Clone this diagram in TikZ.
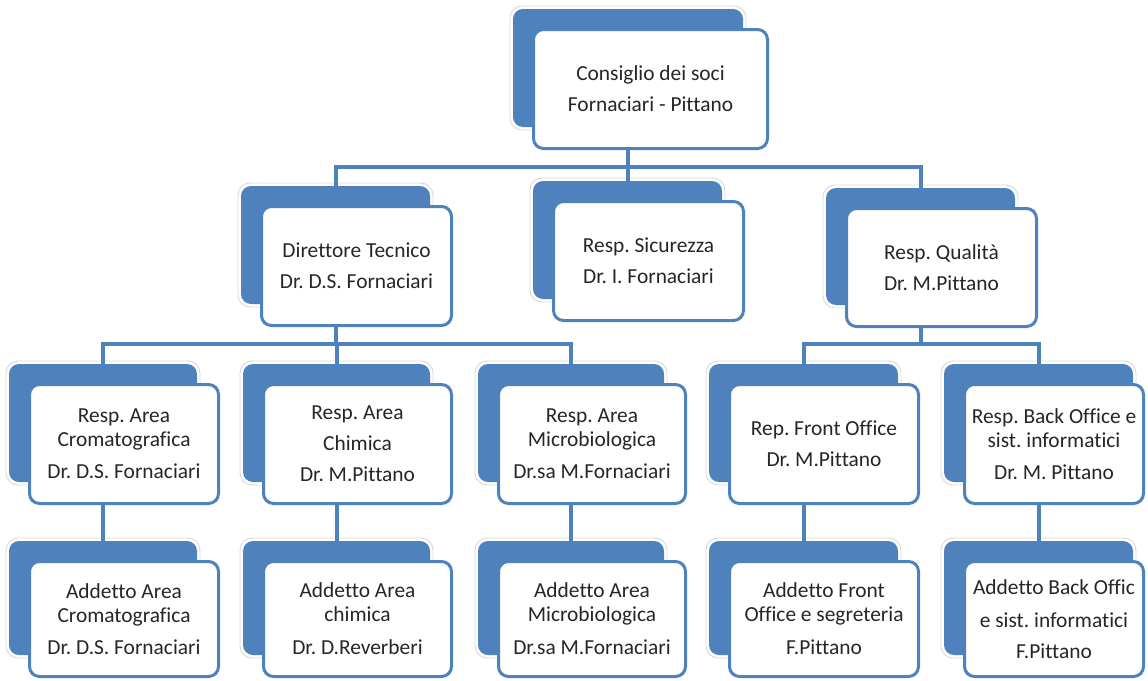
\documentclass[tikz,border=0pt]{standalone}
\usepackage{fontspec}
\setmainfont{Carlito}[Ligatures=NoCommon]
\usetikzlibrary{fit,calc}
\definecolor{ablue}{HTML}{4F81BD}
\definecolor{txtc}{HTML}{262626}
\tikzset{
  glowbox/.style={draw=black!15, line width=0.9pt, fill=white, rounded corners=12pt, inner sep=0pt, outer sep=0pt},
  shadowbox/.style={fill=ablue, rounded corners=10pt, inner sep=0pt, outer sep=0pt},
  frontbox/.style={draw=ablue, line width=3pt, fill=white, rounded corners=10pt, inner sep=0pt, outer sep=0pt},
  txt/.style={align=center, text=txtc, font=\fontsize{21.4}{24}\selectfont\frenchspacing, inner sep=0pt},
  conn/.style={draw=ablue, line width=4pt},
}
% name, x1, y1, x2, y2, shadow right, text
\newcommand\obox[7]{%
  \node[glowbox, fit={(#2-22,#3-22) (#6+3,#5-20)}] (#1-g) {};
  \node[shadowbox, fit={(#2-19,#3-19) (#6,#5-23)}] (#1-s) {};
  \node[frontbox, fit={(#2+1.5,#3+1.5) (#4-1.5,#5-1.5)}] (#1) {};
  \node[txt] (#1-t) at (#1.center) {#7};
}
\begin{document}
\frenchspacing
\begin{tikzpicture}[x=1pt,y=-1pt]
\useasboundingbox (0,0) rectangle (1148,680);
% level 0
\obox{top}{532}{28}{769}{150}{743}{Consiglio dei soci\\[7pt]Fornaciari - Pittano}
% level 1
\obox{dir}{260}{205}{453}{327}{430}{Direttore Tecnico\\[7pt]Dr. D.S. Fornaciari}
\obox{sic}{552}{200}{745}{322}{722}{Resp. Sicurezza\\[7pt]Dr. I. Fornaciari}
\obox{qual}{845}{207}{1038}{328}{1015}{Resp. Qualità\\[7pt]Dr. M.Pittano}
% level 2
\obox{crom}{28}{383}{220}{505}{197}{Resp. Area\\Cromatografica\\[8pt]Dr. D.S. Fornaciari}
\obox{chim}{262}{383}{453}{505}{430}{Resp. Area\\[7pt]Chimica\\[7pt]Dr. M.Pittano}
\obox{micro}{497}{383}{687}{505}{664}{Resp. Area\\Microbiologica\\[8pt]Dr.sa M.Fornaciari}
\obox{front}{728}{383}{920}{505}{898}{Rep. Front Office\\[7pt]Dr. M.Pittano}
\obox{back}{963}{383}{1145}{505}{1133}{Resp. Back Office e\\sist. informatici\\[8pt]Dr. M. Pittano}
% level 3
\obox{acrom}{28}{560}{220}{678}{197}{Addetto Area\\Cromatografica\\[8pt]Dr. D.S. Fornaciari}
\obox{achim}{262}{560}{453}{678}{430}{Addetto Area\\chimica\\[9pt]Dr. D.Reverberi}
\obox{amicro}{497}{560}{687}{678}{664}{Addetto Area\\Microbiologica\\[9pt]Dr.sa M.Fornaciari}
\obox{afront}{728}{560}{920}{678}{898}{Addetto Front\\Office e segreteria\\[9pt]F.Pittano}
\obox{aback}{963}{560}{1145}{678}{1133}{Addetto Back Offic\\[9pt]e sist. informatici\\[7pt]F.Pittano}
% connectors
\coordinate (j0) at ($(top-s.center |- top.south)+(0,18)$);
\draw[conn] (top-s.center |- top.south) -- (j0);
\draw[conn] (j0) -| (dir-s.north);
\draw[conn] (j0) -| (sic-s.north);
\draw[conn] (j0) -| (qual-s.north);
\coordinate (j1) at ($(dir-s.center |- dir.south)+(0,18)$);
\draw[conn] (dir-s.center |- dir.south) -- (j1);
\draw[conn] (j1) -| (crom-s.north);
\draw[conn] (j1) -| (chim-s.north);
\draw[conn] (j1) -| (micro-s.north);
\coordinate (j2) at ($(qual-s.center |- qual.south)+(0,17)$);
\draw[conn] (qual-s.center |- qual.south) -- (j2);
\draw[conn] (j2) -| (front-s.north);
\draw[conn] (j2) -| (back-s.north);
\draw[conn] (crom-s.center |- crom.south) -- (acrom-s.north);
\draw[conn] (chim-s.center |- chim.south) -- (achim-s.north);
\draw[conn] (micro-s.center |- micro.south) -- (amicro-s.north);
\draw[conn] (front-s.center |- front.south) -- (afront-s.north);
\draw[conn] (back-s.center |- back.south) -- (aback-s.north);
\end{tikzpicture}
\end{document}
